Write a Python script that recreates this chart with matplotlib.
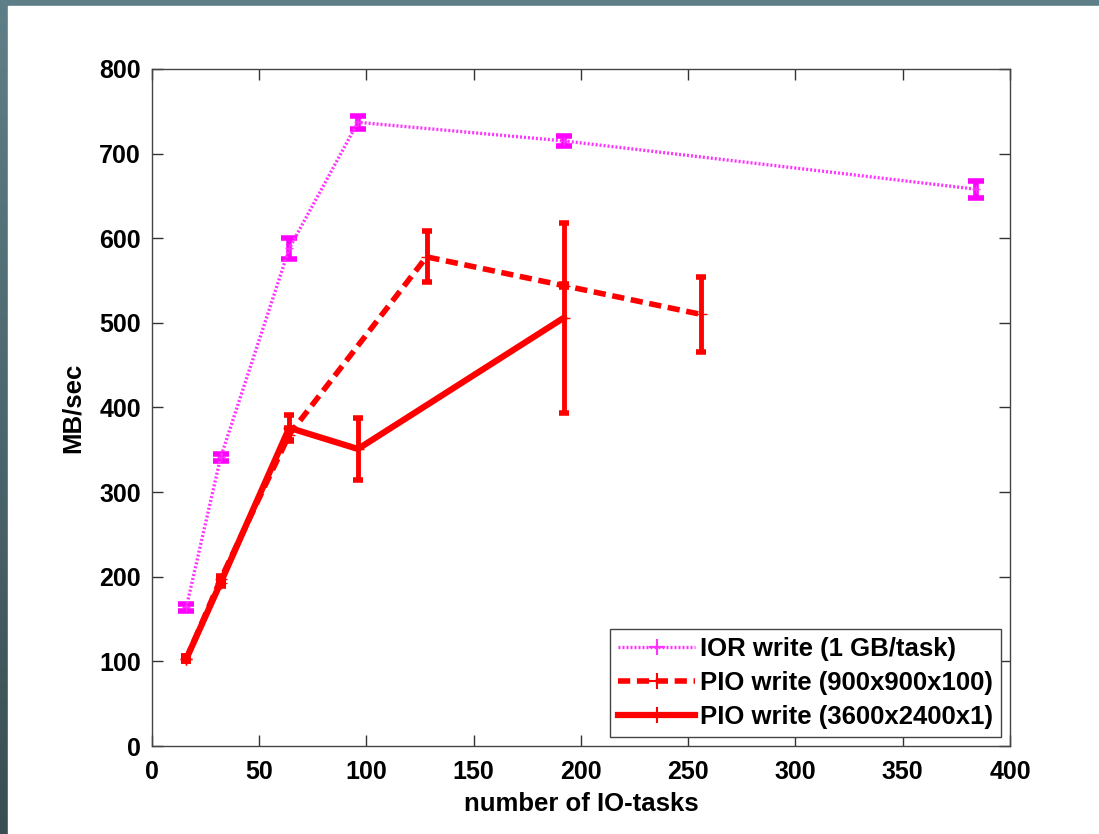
import numpy as np
import matplotlib
matplotlib.use("Agg")
from matplotlib import pyplot as plt
from matplotlib.patches import Rectangle
from matplotlib.lines import Line2D

# IOR write (1 GB/task)
ior_x = [16, 32, 64, 96, 192, 384]
ior_y = [164, 341, 588, 737, 715, 658]
ior_err = [4, 4, 12, 8, 6, 10]

# PIO write (900x900x100)
pio1_x = [16, 32, 64, 128, 192, 256]
pio1_y = [103, 197, 368, 578, 544, 510]
pio1_err = [3, 4, 8, 30, 2, 44]

# PIO write (3600x2400x1)
pio2_x = [16, 32, 64, 96, 192]
pio2_y = [103, 193, 376, 351, 506]
pio2_err = [3, 4, 15, 37, 112]

labels = ['IOR write (1 GB/task)', 'PIO write (900x900x100)', 'PIO write (3600x2400x1)']

plt.rcParams['font.family'] = ['Liberation Sans', 'DejaVu Sans']
plt.rcParams['font.weight'] = 'bold'

fig = plt.figure(figsize=(10.99, 8.34), dpi=100)
fig.patch.set_facecolor('#55757e')

# dark slide background gradient, white page on top
bg = fig.add_axes([0, 0, 1, 1], zorder=-10)
grad = np.linspace(0, 1, 256).reshape(-1, 1)
bg.imshow(grad, aspect='auto', cmap=matplotlib.colors.LinearSegmentedColormap.from_list(
    'slide', ['#5f7f88', '#3a4d52']), extent=[0, 1, 0, 1])
bg.add_patch(Rectangle((8 / 1099, 0), 1, 1 - 6 / 834, color='white'))
bg.set_xlim(0, 1)
bg.set_ylim(0, 1)
bg.axis('off')

ax = fig.add_axes([0.1383, 0.1055, 0.7807, 0.8118])

ior_style = dict(color='#ff33ff', linestyle=(0, (0.6, 0.6)), linewidth=2.4)
pio1_style = dict(color='#ff0000', linestyle=(0, (2.2, 1.2)), linewidth=4)
pio2_style = dict(color='#ff0000', linestyle='-', linewidth=4.5)

ax.errorbar(ior_x, ior_y, yerr=ior_err, ecolor='#ff00ff', marker='+', markersize=6,
            capsize=6, capthick=4, elinewidth=4, **ior_style)
ax.errorbar(pio1_x, pio1_y, yerr=pio1_err, marker='+', markersize=8,
            capsize=3.5, capthick=4, elinewidth=3.5, **pio1_style)
ax.errorbar(pio2_x, pio2_y, yerr=pio2_err, marker='+', markersize=8,
            capsize=3.5, capthick=4, elinewidth=3.5, **pio2_style)

ax.set_xlim(0, 400)
ax.set_ylim(0, 800)
ax.set_xticks(np.arange(0, 401, 50))
ax.set_yticks(np.arange(0, 801, 100))
ax.tick_params(direction='in', length=8, width=1, top=True, right=True,
               labelsize=18, pad=8, colors='#333333', labelcolor='black')
ax.tick_params(axis='x', pad=10)
for s in ax.spines.values():
    s.set_color('#444444')
    s.set_linewidth(1)

ax.set_xlabel('number of IO-tasks', fontsize=18.5, fontweight='bold', labelpad=6)
ax.set_ylabel('MB/sec', fontsize=18.5, fontweight='bold', labelpad=10)

handles = [Line2D([], [], marker='+', markersize=12, markeredgewidth=1.5, **st)
           for st in (ior_style, pio1_style, pio2_style)]
leg = ax.legend(handles, labels, loc='lower right', fontsize=18.5, handlelength=3.0,
                fancybox=False, framealpha=1, edgecolor='#444444', borderpad=0.3,
                labelspacing=0.4, handletextpad=0.2, borderaxespad=0,
                bbox_to_anchor=(0.9895, 0.0133))
leg.get_frame().set_linewidth(1)

fig.savefig('out.png', dpi=100, facecolor=fig.get_facecolor())
